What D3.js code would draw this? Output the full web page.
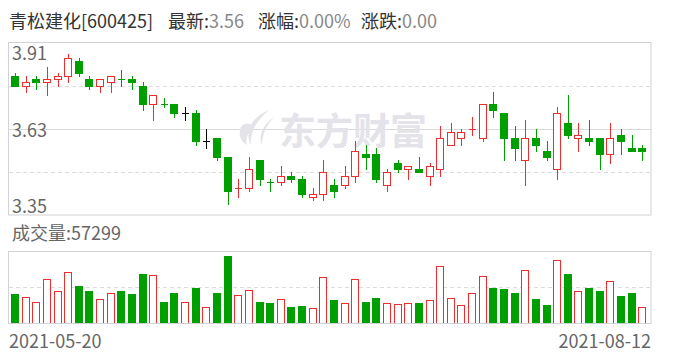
<!DOCTYPE html>
<html lang="zh">
<head>
<meta charset="UTF-8">
<title>青松建化 K线</title>
<script src="https://d3js.org/d3.v7.min.js"></script>
<style>
  body { margin: 0; background: #fff; }
  svg { display: block; font-family: "Noto Sans CJK SC", "Noto Sans", sans-serif; }
  .lbl { font-size: 18px; fill: #666; }
  .hd { font-size: 18px; fill: #333; }
  .val { fill: #888; }
</style>
</head>
<body>
<div id="chart"></div>
<script>
// daily prices, 2021-05-20 .. 2021-08-12 (60 sessions)
const open  = [3.80,3.77,3.79,3.78,3.79,3.80,3.85,3.79,3.77,3.78, 3.79,3.79,3.77,3.71,3.71,3.71,3.68,3.68,3.59,3.60,
               3.54,3.44,3.44,3.53,3.46,3.46,3.48,3.47,3.41,3.42, 3.45,3.45,3.48,3.55,3.55,3.45,3.52,3.50,3.50,3.48,
               3.50,3.58,3.60,3.63,3.60,3.71,3.68,3.60,3.53,3.60, 3.56,3.50,3.65,3.60,3.60,3.60,3.55,3.61,3.57,3.57];
const high  = [3.81,3.80,3.80,3.83,3.81,3.87,3.86,3.80,3.79,3.80, 3.82,3.80,3.78,3.74,3.73,3.71,3.70,3.69,3.63,3.60,
               3.54,3.47,3.54,3.53,3.47,3.51,3.49,3.48,3.44,3.53, 3.47,3.51,3.59,3.58,3.57,3.50,3.53,3.51,3.54,3.52,
               3.64,3.65,3.63,3.67,3.71,3.75,3.68,3.64,3.66,3.63, 3.59,3.70,3.74,3.65,3.66,3.60,3.65,3.63,3.61,3.58];
const low   = [3.77,3.75,3.76,3.74,3.77,3.78,3.80,3.76,3.75,3.75, 3.77,3.76,3.69,3.66,3.70,3.67,3.66,3.58,3.57,3.53,
               3.39,3.41,3.43,3.45,3.43,3.45,3.46,3.41,3.40,3.40, 3.41,3.44,3.46,3.50,3.46,3.43,3.49,3.47,3.49,3.45,
               3.48,3.58,3.58,3.61,3.59,3.67,3.53,3.53,3.45,3.56, 3.53,3.47,3.60,3.56,3.58,3.50,3.52,3.55,3.56,3.53];
const close = [3.77,3.78,3.78,3.79,3.80,3.86,3.81,3.77,3.79,3.80, 3.79,3.78,3.71,3.74,3.71,3.68,3.68,3.59,3.59,3.54,
               3.43,3.44,3.50,3.47,3.46,3.48,3.47,3.42,3.42,3.49, 3.43,3.48,3.56,3.54,3.47,3.49,3.50,3.51,3.49,3.51,
               3.60,3.62,3.62,3.63,3.71,3.69,3.60,3.57,3.60,3.58, 3.54,3.68,3.61,3.61,3.59,3.55,3.60,3.59,3.56,3.56];
const volume = [105000,93100,75200,157600,114600,182600,133700,115800,85900,107400,
                115800,105000,176700,171900,76400,108600,75200,126500,57300,108600,
                241100,100300,118200,76400,72800,85900,58500,62100,53700,164700,
                83600,71600,157600,76400,90700,71600,68000,71600,72800,82400,
                204100,89500,64500,107400,168300,126500,123000,108600,189800,87100,
                65700,225600,176700,115800,126500,115800,150400,97900,108600,57299];
const dateLabels = ["2021-05-20", "2021-08-12"];
const priceTicks = [3.91, 3.63, 3.35];
const dashedLevels = [3.77, 3.49];

const W = 688, H = 360;
const red = "#f02d2d", green = "#009f00";
const n = close.length;

const svg = d3.select("#chart").append("svg")
    .attr("width", W)
    .attr("height", H);

const x = d3.scaleBand().domain(d3.range(n)).range([9.7, 647.5]);
const y = d3.scaleLinear().domain([3.35, 3.91]).range([216, 42]);
const yVol = d3.scaleLinear().domain([0, d3.max(volume) / 0.94]).range([323, 251.5]);
const cx = i => Math.round(x(i) + x.bandwidth() / 2);
const crisp = v => Math.round(v) + 0.5;

// header
const head = svg.append("text").attr("class", "hd").attr("y", 28);
head.append("tspan").attr("x", 9).text("青松建化[600425]");
head.append("tspan").attr("x", 168).text("最新:");
head.append("tspan").attr("class", "val").text(close[n - 1].toFixed(2));
head.append("tspan").attr("x", 258).text("涨幅:");
head.append("tspan").attr("class", "val").text("0.00%");
head.append("tspan").attr("x", 361).text("涨跌:");
head.append("tspan").attr("class", "val").text("0.00");

// grid lines
svg.append("line")
    .attr("x1", 9).attr("x2", 651)
    .attr("y1", crisp(y(3.63))).attr("y2", crisp(y(3.63)))
    .attr("stroke", "#d9d9d9");
svg.selectAll(".dash").data(dashedLevels).enter().append("line")
    .attr("x1", 9).attr("x2", 651)
    .attr("y1", d => crisp(y(d))).attr("y2", d => crisp(y(d)))
    .attr("stroke", "#dcdcdc")
    .attr("stroke-dasharray", "4,3");
svg.append("line")
    .attr("x1", 9).attr("x2", 651)
    .attr("y1", crisp(yVol(yVol.domain()[1] / 2))).attr("y2", crisp(yVol(yVol.domain()[1] / 2)))
    .attr("stroke", "#dcdcdc")
    .attr("stroke-dasharray", "4,3");

// watermark
const wm = svg.append("g").attr("fill", "#e3e3e9");
wm.append("path").attr("d", "M269,110 C252,117 244,131 251,145 C250,132 256,121 269,110 Z");
wm.append("path").attr("d", "M274,117 C263,125 258,135 262,145 C262,135 266,126 274,117 Z");
wm.append("path").attr("d", "M241,127 C245,122 251,123 253,127 C248,133 245,139 247,145 C240,141 238,134 241,127 Z");
wm.append("text")
    .attr("x", 279).attr("y", 145)
    .attr("font-size", 37)
    .attr("font-weight", "bold")
    .text("东方财富");

// candle colour: by body, flat bodies by change from previous close
function candleColor(i) {
    if (close[i] > open[i]) return red;
    if (close[i] < open[i]) return green;
    const prev = i > 0 ? close[i - 1] : open[i];
    return close[i] > prev ? red : close[i] < prev ? green : "#000";
}

const candles = svg.append("g");
d3.range(n).forEach(i => {
    const c = candleColor(i), xc = cx(i);
    candles.append("line")
        .attr("x1", xc + 0.5).attr("x2", xc + 0.5)
        .attr("y1", Math.round(y(high[i]))).attr("y2", Math.round(y(low[i])) + 1)
        .attr("stroke", c);
    const yo = Math.round(y(open[i])), yc = Math.round(y(close[i]));
    if (close[i] > open[i]) {
        candles.append("rect")
            .attr("x", xc - 3.5).attr("y", yc + 0.5)
            .attr("width", 7).attr("height", yo - yc)
            .attr("fill", "#fff").attr("stroke", c);
    } else if (close[i] < open[i]) {
        candles.append("rect")
            .attr("x", xc - 4).attr("y", yo)
            .attr("width", 8).attr("height", Math.max(1, yc - yo + 1))
            .attr("fill", c);
    } else {
        candles.append("line")
            .attr("x1", xc - 3).attr("x2", xc + 4)
            .attr("y1", yc + 0.5).attr("y2", yc + 0.5)
            .attr("stroke", c);
    }
});

// volume: red when close did not fall
svg.append("g").selectAll("rect").data(volume).enter().append("rect")
    .each(function (v, i) {
        const up = i > 0 ? close[i] >= close[i - 1] : close[i] >= open[i];
        const top = Math.round(yVol(v)), xc = cx(i);
        const r = d3.select(this);
        if (up) {
            r.attr("x", xc - 3.5).attr("y", top + 0.5)
                .attr("width", 7).attr("height", 323 - top)
                .attr("fill", "#fff").attr("stroke", red);
        } else {
            r.attr("x", xc - 4).attr("y", top)
                .attr("width", 8).attr("height", 324 - top)
                .attr("fill", green);
        }
    });

// frames
svg.append("rect")
    .attr("x", 8.5).attr("y", 42.5).attr("width", 642.5).attr("height", 172.5)
    .attr("fill", "none").attr("stroke", "#d2d2d8");
svg.append("rect")
    .attr("x", 8.5).attr("y", 251.5).attr("width", 642.5).attr("height", 72)
    .attr("fill", "none").attr("stroke", "#d2d2d8");

// price labels
svg.selectAll(".ptick").data(priceTicks).enter().append("text")
    .attr("class", "lbl")
    .attr("x", 12)
    .attr("y", (d, i) => [60, 136.5, 213][i])
    .text(d => d.toFixed(2));

svg.append("text").attr("class", "lbl")
    .attr("x", 12).attr("y", 240)
    .text("成交量:" + volume[n - 1]);

svg.append("text").attr("class", "lbl")
    .attr("x", 9).attr("y", 348)
    .text(dateLabels[0]);
svg.append("text").attr("class", "lbl")
    .attr("x", 651).attr("y", 348)
    .attr("text-anchor", "end")
    .text(dateLabels[1]);
</script>
</body>
</html>
